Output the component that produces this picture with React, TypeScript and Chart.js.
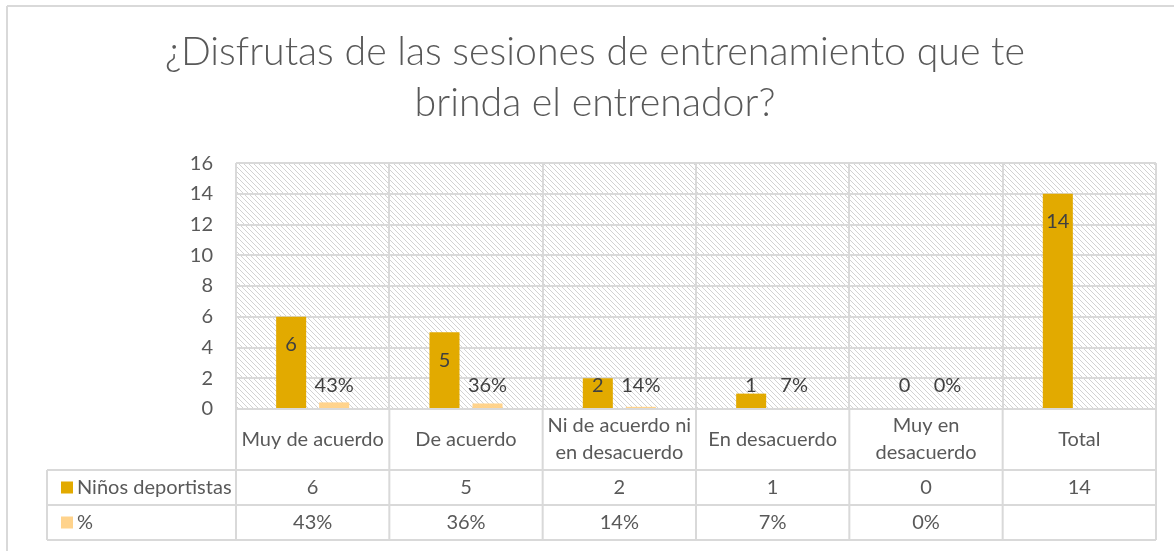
import React, { useEffect, useRef } from "react";
import { Chart, registerables } from "chart.js";

Chart.register(...registerables);

const titleLines = ["¿Disfrutas de las sesiones de entrenamiento que te", "brinda el entrenador?"];
const categories = [
  ["Muy de acuerdo"],
  ["De acuerdo"],
  ["Ni de acuerdo ni", "en desacuerdo"],
  ["En desacuerdo"],
  ["Muy en", "desacuerdo"],
  ["Total"],
];
const seriesNames = ["Niños deportistas", "%"];
const ninos = [6, 5, 2, 1, 0, 14];
const pct = [0.43, 0.36, 0.14, 0.07, 0, null];
const pctLabels = ["43%", "36%", "14%", "7%", "0%", ""];
const ninosLabels = ["6", "5", "2", "1", "0", "14"];

const GOLD = "#E2AA00";
const PEACH = "#FFD38C";
const GRID = "#d9d9d9";
const FONT = "Lato";
const PAD_LEFT = 34;

function makePattern(ctx: CanvasRenderingContext2D) {
  const s = 5;
  const c = document.createElement("canvas");
  c.width = s;
  c.height = s;
  const g = c.getContext("2d")!;
  g.fillStyle = "#ffffff";
  g.fillRect(0, 0, s, s);
  g.strokeStyle = "#d2d2d2";
  g.lineWidth = 1;
  g.beginPath();
  g.moveTo(-1, -1);
  g.lineTo(s + 1, s + 1);
  g.moveTo(-1, s - 1);
  g.lineTo(1, s + 1);
  g.moveTo(s - 1, -1);
  g.lineTo(s + 1, 1);
  g.stroke();
  return ctx.createPattern(c, "repeat");
}

const hatchPlugin = {
  id: "hatch",
  beforeDraw(chart: any) {
    const { ctx, chartArea } = chart;
    const p = makePattern(ctx);
    if (!p) return;
    ctx.save();
    ctx.fillStyle = p;
    ctx.fillRect(chartArea.left, chartArea.top, chartArea.right - chartArea.left, chartArea.bottom - chartArea.top);
    ctx.restore();
  },
};

const labelPlugin = {
  id: "barLabels",
  afterDatasetsDraw(chart: any) {
    const { ctx } = chart;
    const y0 = chart.scales.y.getPixelForValue(0);
    ctx.save();
    ctx.font = `20px ${FONT}`;
    ctx.fillStyle = "#404040";
    ctx.textAlign = "center";
    ctx.textBaseline = "middle";
    chart.data.datasets.forEach((ds: any, di: number) => {
      const meta = chart.getDatasetMeta(di);
      meta.data.forEach((el: any, i: number) => {
        const v = ds.data[i];
        if (v === null || v === undefined) return;
        const txt = di === 0 ? ninosLabels[i] : pctLabels[i];
        const y = Math.min(el.y + 28, y0 - 23);
        ctx.fillText(txt, el.x, y);
      });
    });
    ctx.restore();
  },
};

const tablePlugin = {
  id: "dataTable",
  afterDraw(chart: any) {
    const { ctx } = chart;
    const xs = chart.scales.x;
    const top = chart.chartArea.bottom;
    const left = xs.left;
    const right = xs.right;
    const n = categories.length;
    const w = (right - left) / n;
    const r1 = top + 61;
    const r2 = r1 + 35;
    const r3 = r2 + 35;
    const legLeft = 47;
    ctx.save();
    ctx.strokeStyle = GRID;
    ctx.lineWidth = 2;
    ctx.beginPath();
    for (let i = 0; i <= n; i++) {
      const x = left + i * w;
      ctx.moveTo(x, top);
      ctx.lineTo(x, r3);
    }
    ctx.moveTo(legLeft, r1);
    ctx.lineTo(legLeft, r3);
    [r1, r2, r3].forEach((y) => {
      ctx.moveTo(legLeft, y);
      ctx.lineTo(right, y);
    });
    // outer chart border
    ctx.moveTo(7, 6);
    ctx.lineTo(1174, 6);
    ctx.moveTo(7, 6);
    ctx.lineTo(7, 551);
    ctx.stroke();

    ctx.font = `20px ${FONT}`;
    ctx.fillStyle = "#595959";
    ctx.textAlign = "center";
    ctx.textBaseline = "middle";
    const hMid = (top + r1) / 2;
    categories.forEach((lines, i) => {
      const cx = left + (i + 0.5) * w;
      const lh = 27;
      lines.forEach((ln, j) => {
        ctx.fillText(ln, cx, hMid + (j - (lines.length - 1) / 2) * lh);
      });
      ctx.fillText(ninosLabels[i], cx, (r1 + r2) / 2);
      ctx.fillText(pctLabels[i], cx, (r2 + r3) / 2);
    });
    ctx.textAlign = "left";
    const rows = [
      { y: (r1 + r2) / 2, c: GOLD, t: seriesNames[0] },
      { y: (r2 + r3) / 2, c: PEACH, t: seriesNames[1] },
    ];
    rows.forEach((r) => {
      ctx.fillStyle = r.c;
      ctx.fillRect(61, r.y - 6, 12, 12);
      ctx.fillStyle = "#595959";
      ctx.fillText(r.t, 77, r.y);
    });
    ctx.restore();
  },
};

export default function App() {
  const ref = useRef<HTMLCanvasElement>(null);
  useEffect(() => {
    document.body.style.margin = "0";
    const chart = new Chart(ref.current!, {
      type: "bar",
      data: {
        labels: categories.map((c) => c.join(" ")),
        datasets: [
          {
            label: seriesNames[0],
            data: ninos,
            backgroundColor: GOLD,
            categoryPercentage: 0.561,
            barPercentage: 0.698,
          },
          {
            label: seriesNames[1],
            data: pct,
            backgroundColor: PEACH,
            categoryPercentage: 0.561,
            barPercentage: 0.698,
          },
        ],
      },
      options: {
        responsive: false,
        animation: false,
        devicePixelRatio: 1,
        layout: { padding: { left: PAD_LEFT, right: 18, top: 0, bottom: 142 } },
        plugins: {
          legend: { display: false },
          tooltip: { enabled: false },
          title: {
            display: true,
            text: titleLines,
            color: "#595959",
            font: { family: FONT, size: 39.3, weight: "300", lineHeight: 1.3 },
            padding: { top: 26.5, bottom: 34.4 },
          },
        },
        scales: {
          x: {
            grid: { color: GRID, lineWidth: 2, offset: true, drawTicks: false },
            border: { display: false },
            ticks: { display: false },
            afterFit: (s: any) => {
              s.height = 0;
            },
          },
          y: {
            min: 0,
            max: 16,
            grid: { color: GRID, lineWidth: 2, drawTicks: false },
            border: { display: false },
            ticks: {
              stepSize: 2,
              padding: 23,
              color: "#595959",
              font: { family: FONT, size: 20 },
            },
            afterFit: (s: any) => {
              s.width = 236 - PAD_LEFT;
            },
          },
        },
      },
      plugins: [hatchPlugin, labelPlugin, tablePlugin],
    });
    return () => chart.destroy();
  }, []);
  return (
    <div style={{ position: "absolute", left: 0, top: 0, width: 1174, height: 551, background: "#fff" }}>
      <canvas ref={ref} width={1174} height={551} />
    </div>
  );
}
